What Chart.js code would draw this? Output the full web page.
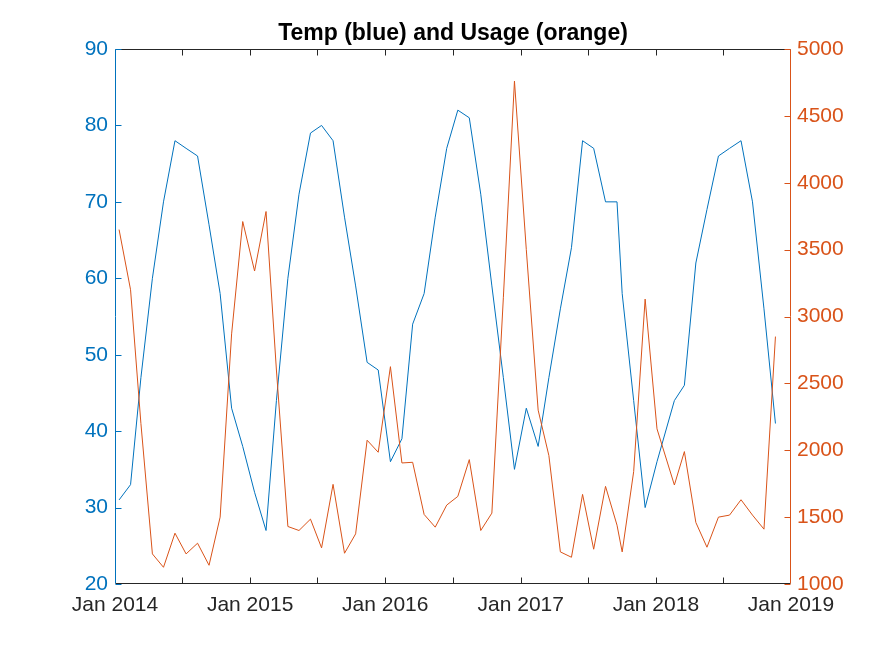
<!DOCTYPE html>
<html>
<head>
<meta charset="utf-8">
<script src="https://cdn.jsdelivr.net/npm/chart.js@4.4.0/dist/chart.umd.min.js"></script>
<style>
  html, body { margin: 0; padding: 0; background: #fff; }
  #wrap { width: 875px; height: 656px; }
</style>
</head>
<body>
<div id="wrap"><canvas id="grafico" width="875" height="656"></canvas></div>
<script>
// Datas das leituras (uma por conta)
const datas = [
  '2014-01-12','2014-02-12','2014-03-12','2014-04-12','2014-05-12','2014-06-12',
  '2014-07-12','2014-08-12','2014-09-12','2014-10-12','2014-11-12','2014-12-12',
  '2015-01-13','2015-02-13','2015-03-13','2015-04-13','2015-05-13','2015-06-13',
  '2015-07-13','2015-08-13','2015-09-13','2015-10-13','2015-11-13','2015-12-13',
  '2016-01-15','2016-02-15','2016-03-15','2016-04-15','2016-05-15','2016-06-15',
  '2016-07-15','2016-08-15','2016-09-15','2016-10-15','2016-11-15','2016-12-15',
  '2017-01-16','2017-02-17','2017-03-18','2017-04-18','2017-05-18','2017-06-17',
  '2017-07-17','2017-08-18','2017-09-18','2017-10-02','2017-11-02','2017-12-03',
  '2018-01-04','2018-02-20','2018-03-19','2018-04-19','2018-05-19','2018-06-19',
  '2018-07-19','2018-08-19','2018-09-19','2018-10-20','2018-11-20'
];

// Temperatura (eixo esquerdo)
const temperatura = [
  31, 33, 47, 60, 70, 78, 77, 76, 67, 58, 43, 38,
  32, 27, 44, 60, 71, 79, 80, 78, 68, 59, 49, 48,
  36, 39, 54, 58, 68, 77, 82, 81, 71, 59, 47, 35,
  43, 38, 47, 56, 64, 78, 77, 70, 70, 58, 44, 30,
  36, 44, 46, 62, 69, 76, 77, 78, 70, 56, 41
];

// Consumo (eixo direito)
const consumo = [
  3650, 3200, 2200, 1225, 1125, 1380, 1225, 1305, 1140, 1500, 2870, 3710,
  3340, 3785, 2600, 1430, 1400, 1485, 1270, 1745, 1230, 1375, 2075, 1985,
  2625, 1905, 1910, 1520, 1425, 1590, 1655, 1930, 1400, 1530, 3140, 4760,
  3500, 2300, 1960, 1240, 1200, 1670, 1260, 1730, 1440, 1240, 1840, 3130,
  2160, 1740, 1990, 1460, 1275, 1500, 1515, 1630, 1515, 1410, 2850
];

const anos = [2014, 2015, 2016, 2017, 2018, 2019];
const ticksTemp = [20, 30, 40, 50, 60, 70, 80, 90];
const ticksConsumo = [1000, 1500, 2000, 2500, 3000, 3500, 4000, 4500, 5000];

const AZUL = '#0072BD';
const LARANJA = '#D95319';
const CINZA = '#262626';
const FONTE = "'Liberation Sans', Arial, sans-serif";

// dias desde 1 jan 2014
function dias(s) {
  const [a, m, d] = s.split('-').map(Number);
  return (Date.UTC(a, m - 1, d) - Date.UTC(2014, 0, 1)) / 864e5;
}

// ticks do eixo x: janeiro e julho
const ticksX = [];
anos.forEach(ano => {
  ticksX.push({ value: dias(ano + '-01-01'), ano: ano, jan: true });
  if (ano < 2019) ticksX.push({ value: dias(ano + '-07-01'), ano: ano, jan: false });
});

// Moldura e marcas para dentro, como no MATLAB
const moldura = {
  id: 'moldura',
  afterDraw(chart) {
    const { ctx, chartArea: a, scales } = chart;
    const t = 6;
    ctx.save();
    ctx.lineWidth = 1;
    const L = Math.round(a.left) + 0.5, R = Math.round(a.right) - 0.5;
    const T = Math.round(a.top) + 0.5, B = Math.round(a.bottom) - 0.5;

    ctx.strokeStyle = CINZA;
    ctx.beginPath();
    ctx.moveTo(L, T); ctx.lineTo(R, T);
    ctx.moveTo(L, B); ctx.lineTo(R, B);
    ticksX.forEach(tk => {
      const x = Math.round(scales.x.getPixelForValue(tk.value)) + 0.5;
      if (x <= L + 1 || x >= R - 1) return;
      ctx.moveTo(x, B); ctx.lineTo(x, B - t);
      ctx.moveTo(x, T); ctx.lineTo(x, T + t);
    });
    ctx.stroke();

    ctx.strokeStyle = AZUL;
    ctx.beginPath();
    ctx.moveTo(L, T); ctx.lineTo(L, B);
    ticksTemp.forEach(v => {
      const y = Math.round(scales.y.getPixelForValue(v)) + 0.5;
      ctx.moveTo(L, y); ctx.lineTo(L + t, y);
    });
    ctx.stroke();

    ctx.strokeStyle = LARANJA;
    ctx.beginPath();
    ctx.moveTo(R, T); ctx.lineTo(R, B);
    ticksConsumo.forEach(v => {
      const y = Math.round(scales.y1.getPixelForValue(v)) + 0.5;
      ctx.moveTo(R, y); ctx.lineTo(R - t, y);
    });
    ctx.stroke();
    ctx.restore();
  }
};

const ctx = document.getElementById('grafico').getContext('2d');
new Chart(ctx, {
  type: 'line',
  data: {
    datasets: [{
      label: 'Usage',
      data: datas.map((d, i) => ({ x: dias(d), y: consumo[i] })),
      yAxisID: 'y1',
      borderColor: LARANJA,
      borderWidth: 1,
      pointRadius: 0,
      tension: 0,
      order: 0
    }, {
      label: 'Temp',
      data: datas.map((d, i) => ({ x: dias(d), y: temperatura[i] })),
      yAxisID: 'y',
      borderColor: AZUL,
      borderWidth: 1,
      pointRadius: 0,
      tension: 0,
      order: 1
    }]
  },
  options: {
    responsive: false,
    animation: false,
    devicePixelRatio: 1,
    layout: { padding: 0 },
    plugins: {
      legend: { display: false },
      tooltip: { enabled: false },
      title: {
        display: true,
        text: 'Temp (blue) and Usage (orange)',
        color: '#000',
        fullSize: false,
        font: { family: FONTE, size: 23, weight: 'bold', lineHeight: 1.2 },
        padding: { top: 20, bottom: 1.4 }
      }
    },
    scales: {
      x: {
        type: 'linear',
        min: 0,
        max: dias('2019-01-01'),
        grid: { display: false, drawTicks: false, tickLength: 0 },
        border: { display: false },
        afterBuildTicks: s => { s.ticks = ticksX.map(tk => ({ value: tk.value })); },
        afterFit: s => { s.height = 72; },
        ticks: {
          autoSkip: false,
          maxRotation: 0,
          padding: 9,
          color: CINZA,
          font: { family: FONTE, size: 21 },
          callback: (v) => {
            const tk = ticksX.find(t => t.value === v);
            return tk && tk.jan ? 'Jan ' + tk.ano : '';
          }
        }
      },
      y: {
        position: 'left',
        min: 20,
        max: 90,
        grid: { display: false, drawTicks: false, tickLength: 0 },
        border: { display: false },
        afterBuildTicks: s => { s.ticks = ticksTemp.map(v => ({ value: v })); },
        afterFit: s => { s.width = 115; },
        ticks: {
          padding: 7,
          color: AZUL,
          font: { family: FONTE, size: 21 },
          callback: v => String(v)
        }
      },
      y1: {
        position: 'right',
        min: 1000,
        max: 5000,
        grid: { display: false, drawTicks: false, tickLength: 0 },
        border: { display: false },
        afterBuildTicks: s => { s.ticks = ticksConsumo.map(v => ({ value: v })); },
        afterFit: s => { s.width = 84; },
        ticks: {
          padding: 6,
          color: LARANJA,
          font: { family: FONTE, size: 21 },
          callback: v => String(v)
        }
      }
    }
  },
  plugins: [moldura]
});
</script>
</body>
</html>
